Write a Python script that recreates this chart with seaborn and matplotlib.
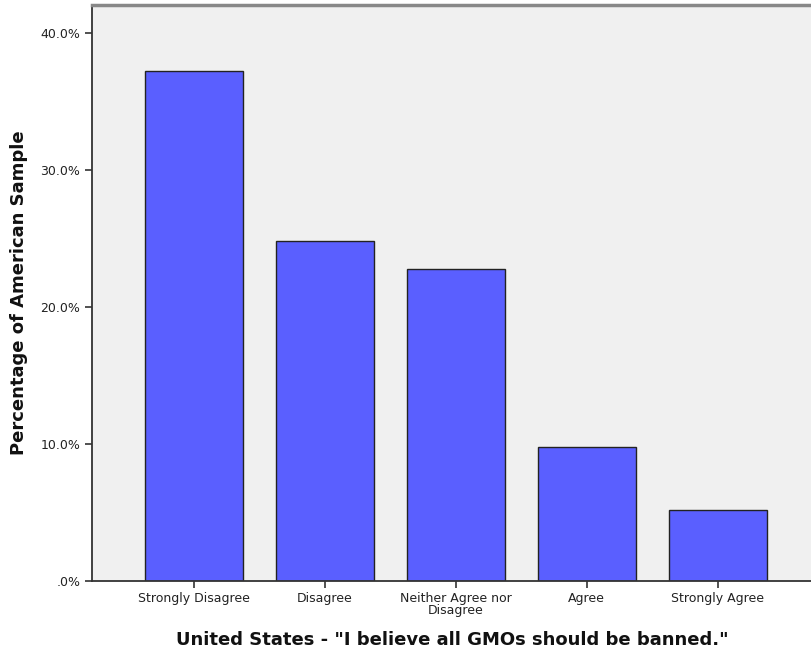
import matplotlib
matplotlib.use('Agg')
import matplotlib.pyplot as plt
import seaborn as sns
import pandas as pd
from matplotlib.ticker import FuncFormatter

# Data
categories = ['Strongly Disagree', 'Disagree', 'Neither Agree nor\nDisagree', 'Agree', 'Strongly Agree']
percentages = [37.2, 24.8, 22.8, 9.8, 5.2]

df = pd.DataFrame({'response': categories, 'pct': percentages})

sns.set_style('white')
plt.rcParams['font.family'] = ['DejaVu Sans']

fig = plt.figure(figsize=(8.12, 6.57), dpi=100)
ax = fig.add_axes([92 / 812, 1 - 581 / 657, 1 - 92 / 812, 576 / 657])

sns.barplot(data=df, x='response', y='pct', color='#5a5fff', saturation=1,
            width=0.75, edgecolor='#222222', linewidth=1.0, ax=ax)

ax.set_facecolor('#f0f0f0')
ax.set_ylim(0, 42.05)
ax.set_xlim(-0.78, 4.72)
ax.set_yticks([0, 10, 20, 30, 40])
ax.yaxis.set_major_formatter(FuncFormatter(lambda v, p: '.0%' if v == 0 else f'{v:.1f}%'))

ax.tick_params(axis='both', direction='out', length=5, width=1.2, color='#333333',
               labelsize=9, labelcolor='#222222', bottom=True, left=True)
ax.tick_params(axis='x', pad=3)

for side in ['left', 'bottom']:
    ax.spines[side].set_color('#333333')
    ax.spines[side].set_linewidth(1.3)
ax.spines['top'].set_color('#888888')
ax.spines['top'].set_linewidth(2.5)
ax.spines['right'].set_visible(False)

for lbl in ax.get_xticklabels():
    lbl.set_linespacing(0.9)

ax.set_xlabel('United States - "I believe all GMOs should be banned."',
              fontsize=13, fontweight='bold', labelpad=10, color='#111111')
ax.set_ylabel('Percentage of American Sample', fontsize=13, fontweight='bold',
              labelpad=9, color='#111111')

fig.savefig('out.png', dpi=100)
